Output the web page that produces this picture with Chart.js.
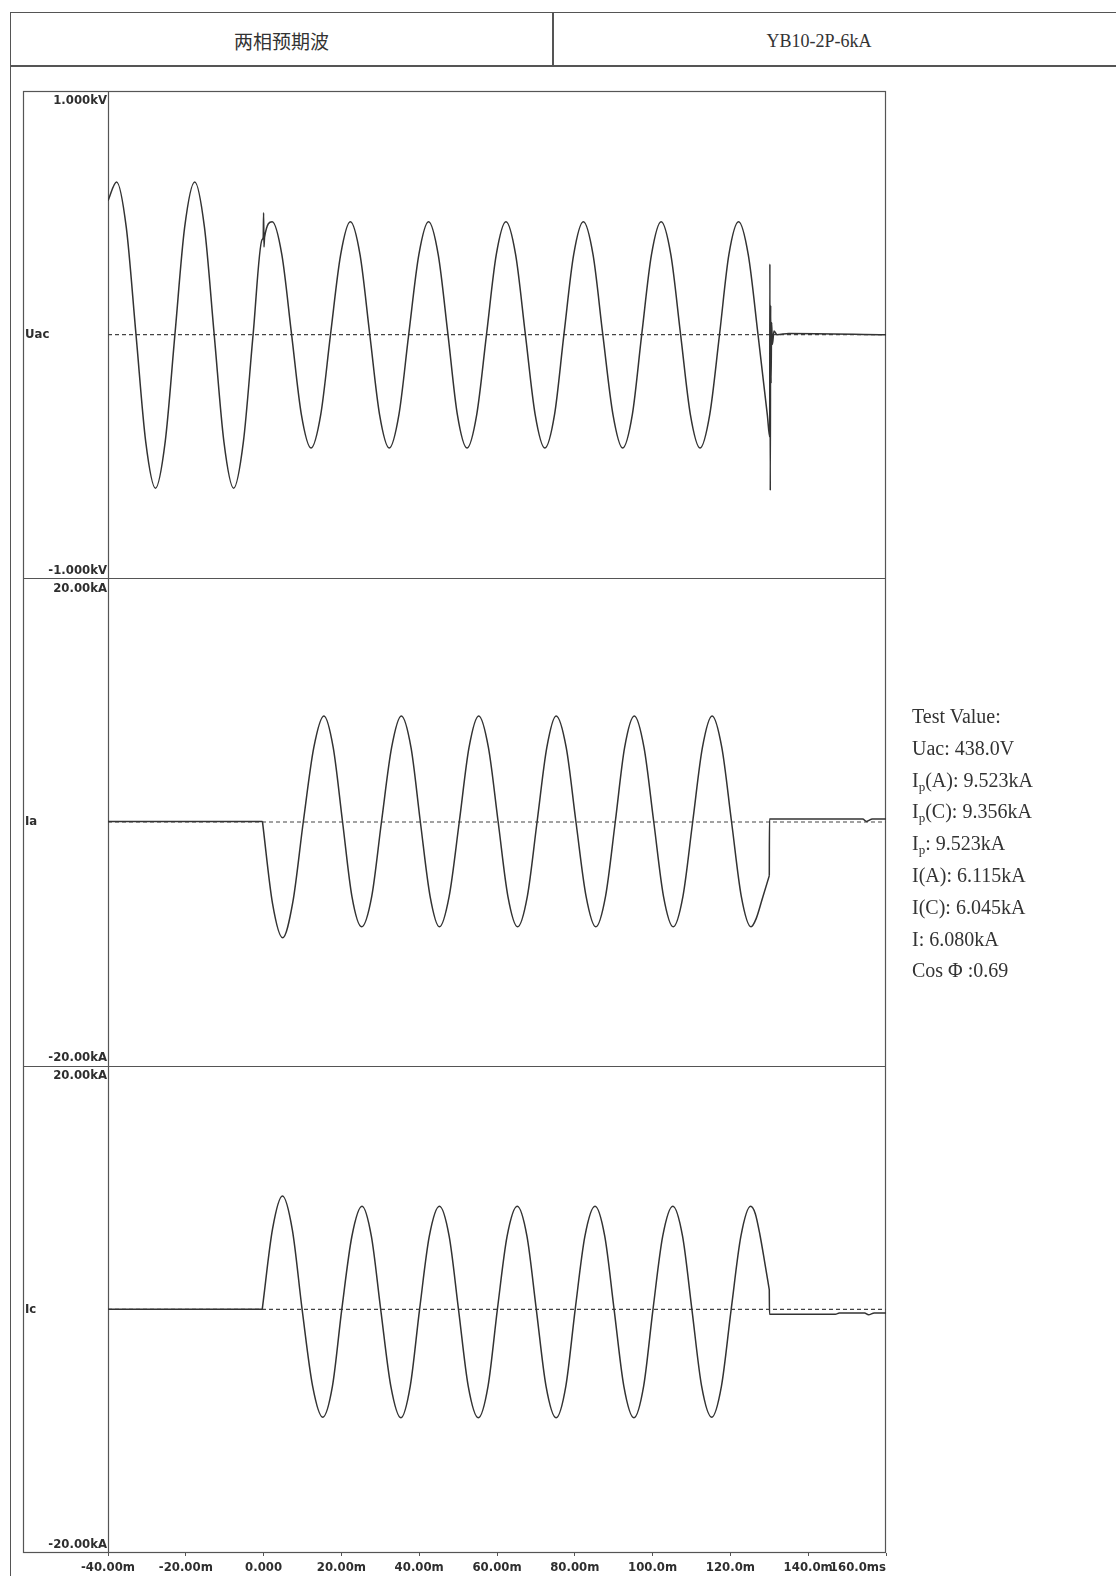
<!DOCTYPE html>
<html><head><meta charset="utf-8">
<script src="https://cdn.jsdelivr.net/npm/chart.js@4.4.1/dist/chart.umd.min.js"></script>
<style>
html,body{margin:0;padding:0;background:#fff;}
body{width:1116px;height:1576px;position:relative;overflow:hidden;}
#c{position:absolute;left:0;top:0;}
.frame{position:absolute;left:10px;top:12px;width:1106px;height:1564px;border-left:1.5px solid #555;border-top:1.5px solid #555;box-sizing:border-box;}
.hline{position:absolute;left:10px;top:65px;width:1106px;height:2px;background:#555;}
.vline{position:absolute;left:552px;top:12px;width:1.5px;height:54px;background:#555;}
.h1{position:absolute;left:10px;width:543px;top:26px;line-height:30px;text-align:center;font-family:'Noto Sans CJK SC';font-size:19px;color:#333;}
.h2{position:absolute;left:553px;width:532px;top:26px;line-height:30px;text-align:center;font-family:'Liberation Serif';font-size:18px;color:#333;}
#vals{position:absolute;left:912px;top:701px;font-family:'Liberation Serif';font-size:20px;line-height:31.8px;color:#333;white-space:nowrap;}
#vals sub{font-size:13px;vertical-align:-4px;line-height:0;}
</style></head>
<body>
<div class="frame"></div>
<div class="hline"></div>
<div class="vline"></div>
<div class="h1">两相预期波</div>
<div class="h2">YB10-2P-6kA</div>
<canvas id="c" width="1116" height="1576"></canvas>
<div id="vals">
<div>Test Value:</div>
<div>Uac: 438.0V</div>
<div>I<sub>p</sub>(A): 9.523kA</div>
<div>I<sub>p</sub>(C): 9.356kA</div>
<div>I<sub>p</sub>: 9.523kA</div>
<div>I(A): 6.115kA</div>
<div>I(C): 6.045kA</div>
<div>I: 6.080kA</div>
<div>Cos Φ :0.69</div>
</div>
<script>
// ---- data (time in ms); null marks a break between smooth pieces (step in the trace) ----
const xTickValues = [-40,-20,0,20,40,60,80,100,120,140,160];
const xTickLabels = ['-40.00m','-20.00m','0.000','20.00m','40.00m','60.00m','80.00m','100.0m','120.0m','140.0m','160.0ms'];
const panelNames = ['Uac','Ia','Ic'];
const panelTopLabels = ['1.000kV','20.00kA','20.00kA'];
const panelBottomLabels = ['-1.000kV','-20.00kA','-20.00kA'];
const panelMin = [-1,-20,-20];
const panelMax = [1,20,20];

const uacTime = [-40,-37.8,-35.3,-32.8,-30.3,-27.8,-25.3,-22.8,-20.3,-17.7,-15.2,-12.7,-10.2,-7.7,-5.2,-2.7,-0.4,-0.1,0.0,0.1,0.25,2.2,4.7,7.2,9.7,12.2,14.7,17.2,19.8,22.3,24.8,27.3,29.8,32.3,34.8,37.3,39.9,42.4,44.9,47.4,49.8,52.3,54.8,57.3,59.8,62.3,64.8,67.3,69.8,72.3,74.8,77.2,79.7,82.2,84.7,87.2,89.8,92.3,94.8,97.2,99.7,102.2,104.7,107.2,109.7,112.2,114.7,117.2,119.6,122.1,124.6,127.1,129.5,130.1,130.15,130.25,130.35,130.45,130.6,130.8,131.2,132,135,160];
const uacKV = [0.55,0.627,0.44,0,-0.44,-0.63,-0.44,0,0.44,0.627,0.44,0,-0.44,-0.63,-0.44,0,0.39,0.40,0.50,0.36,0.40,0.463,0.327,0,-0.327,-0.465,-0.327,0,0.327,0.463,0.327,0,-0.327,-0.465,-0.327,0,0.327,0.463,0.327,0,-0.327,-0.465,-0.327,0,0.327,0.463,0.327,0,-0.327,-0.465,-0.327,0,0.327,0.463,0.327,0,-0.327,-0.465,-0.327,0,0.327,0.463,0.327,0,-0.327,-0.465,-0.327,0,0.327,0.463,0.327,0,-0.33,-0.42,0.29,-0.64,0.12,-0.2,0.05,-0.04,0.015,0,0.005,0];

const iaTime = [-40,-0.3,null,-0.3,2.3,4.9,7.5,10.2,12.9,15.5,17.9,20.3,22.7,25.2,27.8,30.3,32.9,35.4,37.9,40.3,42.8,45.2,47.7,50.3,52.8,55.3,57.8,60.3,62.8,65.3,67.8,70.3,72.8,75.2,77.8,80.3,82.9,85.4,87.9,90.4,92.8,95.3,97.8,100.3,102.8,105.3,107.8,110.3,112.8,115.3,117.8,120.3,122.8,125.3,126.6,128.2,130.0,null,130.0,130.05,154,155,156.5,160];
const iaKA = [0.05,0.05,null,0.05,-6.7,-9.5,-6.6,0,6.1,8.7,6.1,0,-6.1,-8.6,-6.1,0,6.1,8.7,6.1,0,-6.1,-8.6,-6.1,0,6.1,8.7,6.1,0,-6.1,-8.6,-6.1,0,6.1,8.7,6.1,0,-6.1,-8.6,-6.1,0,6.1,8.7,6.1,0,-6.1,-8.6,-6.1,0,6.1,8.7,6.1,0,-6.1,-8.6,-7.95,-6.3,-4.4,null,-4.4,0.25,0.25,0.05,0.25,0.25];

const icTime = [-40,-0.35,null,-0.35,2.3,4.85,7.4,9.9,12.6,15.2,17.7,20.1,22.7,25.3,27.7,30.1,32.7,35.3,37.7,40.1,42.6,45.2,47.7,50.1,52.6,55.2,57.7,60.1,62.6,65.2,67.7,70.1,72.6,75.2,77.7,80.1,82.6,85.2,87.7,90.1,92.6,95.2,97.7,100.1,102.6,105.2,107.7,110.1,112.6,115.2,117.7,120.2,122.7,125.2,126.4,127.6,128.8,130.0,null,130.0,130.05,147,148,154.5,155.5,157,160];
const icKA = [0,0,null,0,6.6,9.3,6.5,0,-6.3,-8.85,-6.3,0,6.0,8.46,6.0,0,-6.3,-8.9,-6.3,0,6.0,8.46,6.0,0,-6.3,-8.9,-6.3,0,6.0,8.46,6.0,0,-6.3,-8.9,-6.3,0,6.0,8.46,6.0,0,-6.3,-8.9,-6.3,0,6.0,8.46,6.0,0,-6.3,-8.85,-6.3,0,6.0,8.46,7.85,6.1,3.9,1.6,null,1.6,-0.4,-0.4,-0.3,-0.3,-0.45,-0.3,-0.3];

// ---- chart ----
const yIds = ['yU','yA','yC'];
const seriesTimes = [uacTime, iaTime, icTime];
const seriesVals = [uacKV, iaKA, icKA];
const FONT = "'DejaVu Sans Condensed','DejaVu Sans',sans-serif";
const nPanels = yIds.length;

const scales = {
  x: {
    type:'linear', position:'bottom', min:xTickValues[0], max:xTickValues[xTickValues.length-1],
    afterBuildTicks: s => { s.ticks = xTickValues.map(v => ({value:v})); },
    afterFit: s => { s.height = 23; },
    grid:{display:true, drawOnChartArea:false, drawTicks:true, tickLength:3, color:'#555'},
    border:{display:false},
    ticks:{autoSkip:false, maxRotation:0, minRotation:0, padding:4, color:'#2e2e2e',
      font:{family:FONT, size:13, weight:'bold'},
      callback:(v,i) => xTickLabels[i]}
  }
};
yIds.forEach((id,i) => {
  const span = panelMax[i]-panelMin[i];
  scales[id] = {type:'linear', display:false,
    min: panelMin[i] - (nPanels-1-i)*span,
    max: panelMax[i] + i*span};
});

// a null entry becomes a skipped point (x kept finite so the data stays sorted)
const toPoints = (ts, vs) => ts.map((t,k) => (t === null || vs[k] === null)
  ? {x: ts[k-1], y: NaN} : {x: t, y: vs[k]});

const datasets = [];
yIds.forEach((id,i) => {
  datasets.push({
    data: toPoints(seriesTimes[i], seriesVals[i]),
    yAxisID:id, borderColor:'#333', borderWidth:1.5, pointRadius:0,
    cubicInterpolationMode:'monotone', spanGaps:false, fill:false, order:1
  });
  datasets.push({
    data: [{x:xTickValues[0], y:0},{x:xTickValues[xTickValues.length-1], y:0}],
    yAxisID:id, borderColor:'#444', borderWidth:1.2, borderDash:[4,3], pointRadius:0, fill:false, order:2
  });
});

const decor = {
  id:'decor',
  beforeDraw(chart){
    const items = chart.scales.x.getLabelItems(chart.chartArea);
    if (items && items.length) items[items.length-1].options.textAlign = 'right';
  },
  beforeDatasetsDraw(chart){
    const {ctx, chartArea:a} = chart;
    const boxLeft = a.left - 85;
    ctx.save();
    ctx.strokeStyle = '#555'; ctx.lineWidth = 1.2;
    ctx.strokeRect(boxLeft+0.5, a.top+0.5, a.right-boxLeft-1, a.bottom-a.top-1);
    ctx.beginPath(); ctx.moveTo(a.left+0.5, a.top); ctx.lineTo(a.left+0.5, a.bottom); ctx.stroke();
    for (let i=1;i<nPanels;i++){
      const y = Math.round(chart.scales[yIds[i]].getPixelForValue(panelMax[i]))+0.5;
      ctx.beginPath(); ctx.moveTo(boxLeft, y); ctx.lineTo(a.right, y); ctx.stroke();
    }
    ctx.restore();
  },
  afterDraw(chart){
    const {ctx, chartArea:a} = chart;
    const boxLeft = a.left - 85;
    ctx.save();
    ctx.font = 'bold 13px ' + FONT;
    ctx.fillStyle = '#2e2e2e'; ctx.textBaseline = 'middle';
    yIds.forEach((id,i) => {
      const s = chart.scales[id];
      const top = s.getPixelForValue(panelMax[i]);
      const bot = s.getPixelForValue(panelMin[i]);
      const zero = s.getPixelForValue(0);
      ctx.textAlign = 'right';
      ctx.fillText(panelTopLabels[i], a.left-1, top+10);
      ctx.fillText(panelBottomLabels[i], a.left-1, bot-8);
      ctx.textAlign = 'left';
      ctx.fillText(panelNames[i], boxLeft+2, zero);
    });
    ctx.restore();
  }
};

new Chart(document.getElementById('c'), {
  type:'line',
  data:{datasets},
  options:{
    responsive:false, animation:false, devicePixelRatio:1, parsing:false,
    layout:{padding:{left:108, right:230, top:91, bottom:0}},
    plugins:{legend:{display:false}, tooltip:{enabled:false}},
    scales
  },
  plugins:[decor]
});
</script>
</body></html>
